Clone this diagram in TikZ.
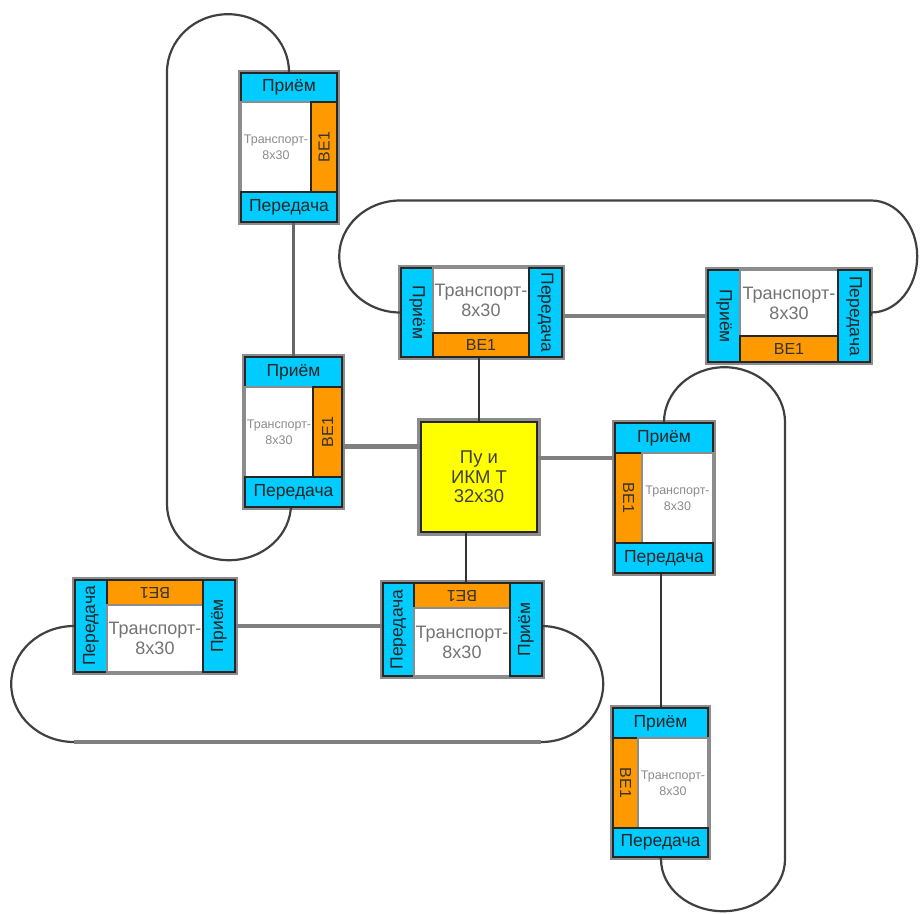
\documentclass[tikz,border=0pt]{standalone}
\usepackage{fontspec}
\setmainfont{Liberation Sans}
\usetikzlibrary{calc}
\pgfdeclarelayer{bg}
\pgfsetlayers{bg,main}
\definecolor{barblue}{HTML}{00CCFF}
\definecolor{leorange}{HTML}{FF9900}
\definecolor{ikmyellow}{HTML}{FFFF00}
\definecolor{wire}{HTML}{7F7F7F}

\tikzset{
  part/.style={inner sep=0pt, draw=black!85, line width=1.6pt},
  bar/.style={part, fill=barblue, text=black!85, font=\fontsize{17.5}{17.5}\selectfont},
  le/.style={part, fill=leorange, text=black!80, font=\fontsize{16}{16}\selectfont},
  bodybig/.style={inner sep=0pt, fill=white, draw=black!45, line width=2pt, align=center,
    text=black!55, font=\fontsize{18}{20}\selectfont},
  bodysmall/.style={inner sep=0pt, fill=white, draw=black!45, line width=2pt, align=center,
    text=black!45, font=\fontsize{12.5}{16}\selectfont},
  ikm/.style={inner sep=0pt, fill=ikmyellow, draw=black!85, line width=2.2pt, align=center,
    text=black!75, font=\fontsize{18.5}{19.5}\selectfont},
  halo/.style={draw=black!45, line width=5pt},
  wide/.style={line width=4.5pt, draw=wire},
  slim/.style={line width=2pt, draw=black!80},
  loopline/.style={line width=2.2pt, draw=black!75},
}

% rectangle node given by its corners: name, x1, y1, x2, y2, style, text
\newcommand\rbox[7]{%
  \pgfmathsetmacro\rbw{#4-#2}\pgfmathsetmacro\rbh{#5-#3}%
  \pgfmathsetmacro\rbx{(#2+#4)/2}\pgfmathsetmacro\rby{(#3+#5)/2}%
  \node[#6, minimum width=\rbw pt, minimum height=\rbh pt] (#1) at (\rbx,\rby) {#7};}

\begin{document}
\begin{tikzpicture}[x=1pt,y=-1pt]
\useasboundingbox (0,0) rectangle (920,913);

% upper left unit
\rbox{A-rx}{241}{73}{337}{102}{bar}{Приём}
\rbox{A-bd}{241}{102}{311}{192}{bodysmall}{Транспорт-\\8х30}
\rbox{A-le}{311}{102}{337}{192}{le}{\rotatebox{90}{ВЕ1}}
\rbox{A-tx}{241}{192}{337}{222}{bar}{Передача}

% middle left unit
\rbox{B-rx}{245}{357}{342}{387}{bar}{Приём}
\rbox{B-bd}{245}{387}{313}{477}{bodysmall}{Транспорт-\\8х30}
\rbox{B-le}{313}{387}{342}{477}{le}{\rotatebox{90}{ВЕ1}}
\rbox{B-tx}{245}{477}{342}{507}{bar}{Передача}

% middle right unit
\rbox{E-rx}{615}{423}{713}{453}{bar}{Приём}
\rbox{E-le}{615}{453}{642}{543}{le}{\rotatebox{-90}{ВЕ1}}
\rbox{E-bd}{642}{453}{713}{543}{bodysmall}{Транспорт-\\8х30}
\rbox{E-tx}{615}{543}{713}{573}{bar}{Передача}

% lower right unit
\rbox{F-rx}{613}{708}{708}{738}{bar}{Приём}
\rbox{F-le}{613}{738}{638}{828}{le}{\rotatebox{-90}{ВЕ1}}
\rbox{F-bd}{638}{738}{708}{828}{bodysmall}{Транспорт-\\8х30}
\rbox{F-tx}{613}{828}{708}{857}{bar}{Передача}

% upper middle unit
\rbox{C-rx}{401}{268}{433}{357}{bar}{\rotatebox{-90}{Приём}}
\rbox{C-bd}{433}{268}{529}{333}{bodybig}{Транспорт-\\8х30}
\rbox{C-le}{433}{333}{529}{357}{le}{ВЕ1}
\rbox{C-tx}{529}{268}{562}{357}{bar}{\rotatebox{-90}{Передача}}

% upper right unit
\rbox{D-rx}{708}{270}{740}{362}{bar}{\rotatebox{-90}{Приём}}
\rbox{D-bd}{740}{270}{838}{336}{bodybig}{Транспорт-\\8х30}
\rbox{D-le}{740}{336}{838}{362}{le}{ВЕ1}
\rbox{D-tx}{838}{270}{870}{362}{bar}{\rotatebox{-90}{Передача}}

% lower middle unit
\rbox{G-tx}{383}{583}{414}{676}{bar}{\rotatebox{90}{Передача}}
\rbox{G-le}{414}{583}{510}{608}{le}{\rotatebox{180}{ВЕ1}}
\rbox{G-bd}{414}{608}{510}{676}{bodybig}{Транспорт-\\8х30}
\rbox{G-rx}{510}{583}{542}{676}{bar}{\rotatebox{90}{Приём}}

% lower left unit
\rbox{H-tx}{75}{580}{107}{672}{bar}{\rotatebox{90}{Передача}}
\rbox{H-le}{107}{580}{203}{605}{le}{\rotatebox{180}{ВЕ1}}
\rbox{H-bd}{107}{605}{203}{672}{bodybig}{Транспорт-\\8х30}
\rbox{H-rx}{203}{580}{235}{672}{bar}{\rotatebox{90}{Приём}}

% central unit
\rbox{Y}{421}{422}{537}{532}{ikm}{Пу и\\ИКМ Т\\32х30}

\coordinate (yw) at ($(Y.north west)!0.23!(Y.south west)$);
\coordinate (ye) at ($(Y.north east)!0.33!(Y.south east)$);
\coordinate (ys) at ($(Y.south west)!0.39!(Y.south east)$);

\begin{pgfonlayer}{bg}
  % grey rims round each unit
  \foreach \a/\b in {A-rx/A-tx, B-rx/B-tx, E-rx/E-tx, F-rx/F-tx,
                     C-rx/C-tx, D-rx/D-tx, G-tx/G-rx, H-tx/H-rx, Y/Y}
    \draw[halo] (\a.north west) rectangle (\b.south east);

  % links between units
  \draw[slim, draw=black!60, line width=3pt] (B-rx.north |- A-tx.south) -- (B-rx.north);
  \draw[wide] (yw) -- (yw -| B-le.east);
  \draw[wide] (ye) -- (ye -| E-le.west);
  \draw[slim] (Y.north) -- (Y.north |- C-le.south);
  \draw[slim] (ys) -- (ys |- G-le.north);
  \draw[wide] (C-tx.east |- D-rx.west) -- (D-rx.west);
  \draw[slim] (E-tx.south -| F-rx.north) -- (F-rx.north);
  \draw[wide] (H-rx.east) -- (H-rx.east -| G-tx.west);

  % ring loops
  \draw[loopline] (A-rx.north)
    arc[start angle=0, end angle=180, x radius=61pt, y radius=58pt]
    -- ++(0,432)
    arc[start angle=180, end angle=360, x radius=62pt, y radius=56pt]
    -- (B-tx.south);
  \draw[loopline] (C-rx.west)
    arc[start angle=270, end angle=90, x radius=61pt, y radius=56pt]
    -- ++(471,0)
    arc[start angle=90, end angle=-90, x radius=46pt, y radius=56pt]
    -- (D-tx.east);
  \draw[loopline] (E-rx.north)
    arc[start angle=180, end angle=0, x radius=60.5pt, y radius=55pt]
    -- ++(0,437)
    arc[start angle=0, end angle=-180, x radius=62pt, y radius=52pt]
    -- (F-tx.south);
  \draw[loopline] (H-tx.west)
    arc[start angle=90, end angle=270, x radius=63pt, y radius=58pt]
    coordinate (hgl) -- ++(467,0) coordinate (hgr)
    arc[start angle=270, end angle=450, x radius=62pt, y radius=58pt]
    -- (G-rx.east);
  \draw[wide, line width=4pt] (hgl) -- (hgr);
\end{pgfonlayer}
\end{tikzpicture}
\end{document}
